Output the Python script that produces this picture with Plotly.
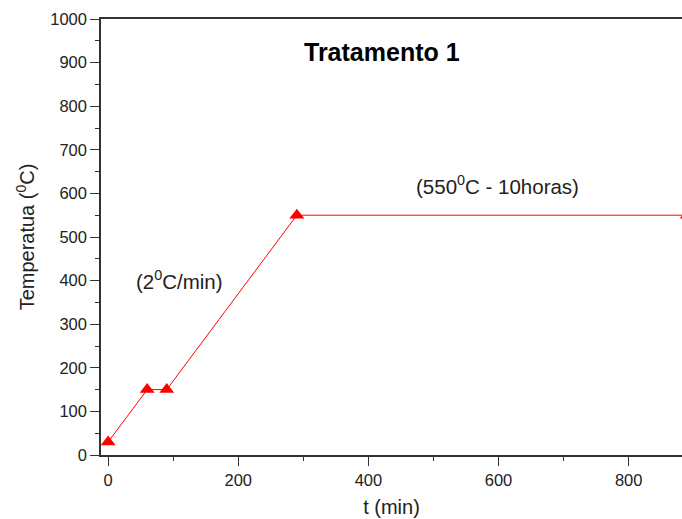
import plotly.graph_objects as go

# Heating schedule: time (min) vs temperature (°C)
time_min = [0, 60, 90, 290, 890]
temp_c = [30, 150, 150, 550, 550]

x_ticks = [0, 200, 400, 600, 800]
x_minor = [100, 300, 500, 700]
y_ticks = [0, 100, 200, 300, 400, 500, 600, 700, 800, 900, 1000]
y_minor = [50, 150, 250, 350, 450, 550, 650, 750, 850, 950]

font_family = "Liberation Sans, Arial, sans-serif"
axis_color = "#333333"

fig = go.Figure()
fig.add_trace(go.Scatter(
    x=time_min, y=temp_c,
    mode="lines+markers",
    line=dict(color="#ff0000", width=1),
    marker=dict(symbol="triangle-up", size=13, color="#ff0000"),
    showlegend=False,
))

fig.update_layout(
    width=682, height=519,
    margin=dict(l=101, r=0, t=19, b=64),
    paper_bgcolor="white", plot_bgcolor="white",
    font=dict(family=font_family, size=16.5, color="#222222"),
    xaxis=dict(
        range=[-11, 882], tickvals=x_ticks, ticks="outside", ticklen=9,
        tickcolor=axis_color, showline=True, linecolor=axis_color, linewidth=1.5,
        mirror=True, showgrid=False, zeroline=False,
        minor=dict(tickvals=x_minor, ticks="outside", ticklen=4, tickcolor=axis_color),
        title=dict(text="t (min)", font=dict(size=20), standoff=12),
    ),
    yaxis=dict(
        range=[0, 1000], tickvals=y_ticks, ticks="outside", ticklen=9,
        tickcolor=axis_color, showline=True, linecolor=axis_color, linewidth=1.5,
        showgrid=False, zeroline=False,
        minor=dict(tickvals=y_minor, ticks="outside", ticklen=4, tickcolor=axis_color),
        title=dict(text="Temperatua (<sup>0</sup>C)", font=dict(size=20), standoff=10),
    ),
    annotations=[
        dict(text="<b>Tratamento 1</b>", x=421, y=925, xref="x", yref="y", showarrow=False,
             font=dict(size=25, color="black", family=font_family),
             xanchor="center", yanchor="middle"),
        dict(text="(2<sup>0</sup>C/min)", x=109, y=402, xref="x", yref="y", showarrow=False,
             font=dict(size=20.5), xanchor="center", yanchor="middle"),
        dict(text="(550<sup>0</sup>C - 10horas)", x=599, y=620, xref="x", yref="y", showarrow=False,
             font=dict(size=20.5), xanchor="center", yanchor="middle"),
    ],
)

fig.write_html("out.html")
